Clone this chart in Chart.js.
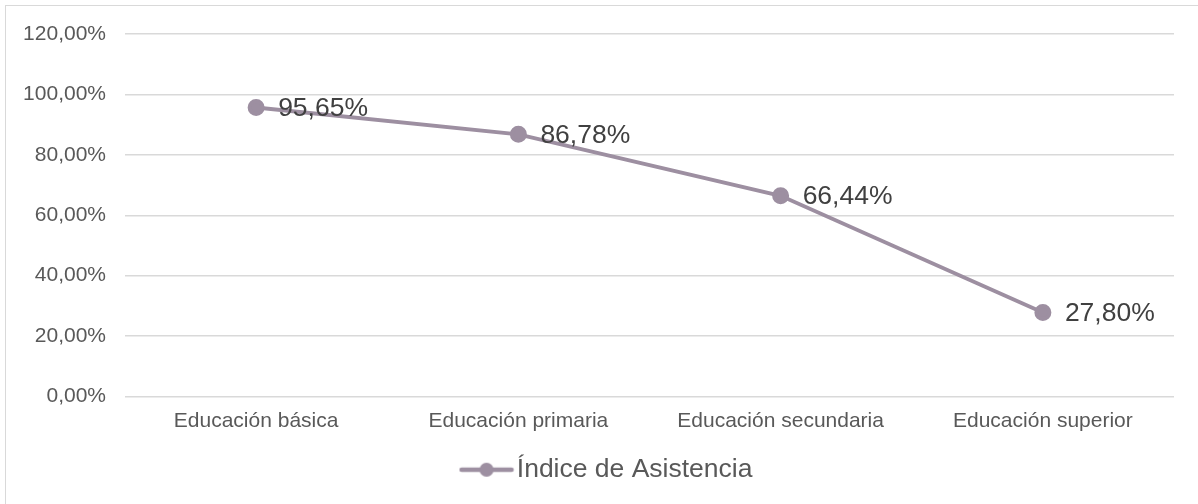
<!DOCTYPE html>
<html>
<head>
<meta charset="utf-8">
<script src="https://cdn.jsdelivr.net/npm/chart.js@4/dist/chart.umd.min.js"></script>
<style>
  html, body { margin: 0; padding: 0; background: #fff; overflow: hidden; }
  .frame { position: absolute; left: 5px; top: 5px; width: 1300px; height: 600px; border: 1px solid #d9d9d9; }
  #chart { position: absolute; left: 0; top: 0; }
</style>
</head>
<body>
<div class="frame"></div>
<canvas id="chart" width="1198" height="504"></canvas>
<script>
const categories = ["Educación básica", "Educación primaria", "Educación secundaria", "Educación superior"];
const seriesName = "Índice de Asistencia";
const asistencia = [95.65, 86.78, 66.44, 27.80];
const yTicks = [0, 20, 40, 60, 80, 100, 120];

const lineColor = "#9d8fa1";
const fontFamily = "'Liberation Sans', Arial, sans-serif";

function pct(v) {
  return v.toFixed(2).replace(".", ",") + "%";
}

// legend marker: a short line with a dot in the middle
const marker = document.createElement("canvas");
marker.width = 56;
marker.height = 18;
(function () {
  const c = marker.getContext("2d");
  c.strokeStyle = lineColor;
  c.lineWidth = 4.5;
  c.lineCap = "round";
  c.beginPath();
  c.moveTo(3, 9);
  c.lineTo(53, 9);
  c.stroke();
  c.fillStyle = lineColor;
  c.beginPath();
  c.arc(28, 9, 7, 0, Math.PI * 2);
  c.fill();
})();

const valueLabels = {
  id: "valueLabels",
  afterDatasetsDraw(chart) {
    const ctx = chart.ctx;
    const meta = chart.getDatasetMeta(0);
    ctx.save();
    ctx.font = "26.5px " + fontFamily;
    ctx.fillStyle = "#404040";
    ctx.textAlign = "left";
    ctx.textBaseline = "middle";
    meta.data.forEach((pt, i) => {
      ctx.fillText(pct(asistencia[i]), pt.x + 22, pt.y + 1);
    });
    ctx.restore();
  }
};

// the legend is centred under the plot area, not under the whole canvas
const legendShift = {
  id: "legendShift",
  afterLayout(chart) {
    if (chart.legend) {
      chart.legend.left += 24;
      chart.legend.right += 24;
    }
  }
};

new Chart(document.getElementById("chart").getContext("2d"), {
  type: "line",
  data: {
    labels: categories,
    datasets: [{
      label: seriesName,
      data: asistencia,
      borderColor: lineColor,
      backgroundColor: lineColor,
      borderWidth: 4,
      pointRadius: 6.5,
      pointBackgroundColor: lineColor,
      pointBorderColor: lineColor,
      pointStyle: "circle",
      tension: 0,
    }],
  },
  options: {
    responsive: false,
    animation: false,
    devicePixelRatio: 1,
    layout: { padding: { top: 34, right: 24, bottom: 11, left: 0 } },
    scales: {
      x: {
        offset: true,
        grid: { display: false, drawTicks: false },
        border: { display: false },
        ticks: {
          color: "#595959",
          font: { family: fontFamily, size: 21 },
          padding: 12,
          maxRotation: 0,
        },
        afterFit(scale) { scale.height = 50; },
      },
      y: {
        min: 0,
        max: 120,
        afterBuildTicks(scale) { scale.ticks = yTicks.map((v) => ({ value: v })); },
        grid: { color: "#d9d9d9", lineWidth: 1.5, drawTicks: false },
        border: { display: false },
        ticks: {
          color: "#595959",
          font: { family: fontFamily, size: 21 },
          padding: 19,
          callback: (v) => pct(v),
        },
        afterFit(scale) { scale.width = 125; },
      },
    },
    plugins: {
      tooltip: { enabled: false },
      legend: {
        position: "bottom",
        labels: {
          usePointStyle: true,
          pointStyle: marker,
          pointStyleWidth: 34,
          color: "#595959",
          font: { family: fontFamily, size: 26.5 },
          padding: 10,
          generateLabels: (chart) => [{
            text: seriesName,
            pointStyle: marker,
            fillStyle: lineColor,
            strokeStyle: lineColor,
            fontColor: "#595959",
            lineWidth: 0,
            datasetIndex: 0,
          }],
        },
      },
    },
  },
  plugins: [valueLabels, legendShift],
});
</script>
</body>
</html>
